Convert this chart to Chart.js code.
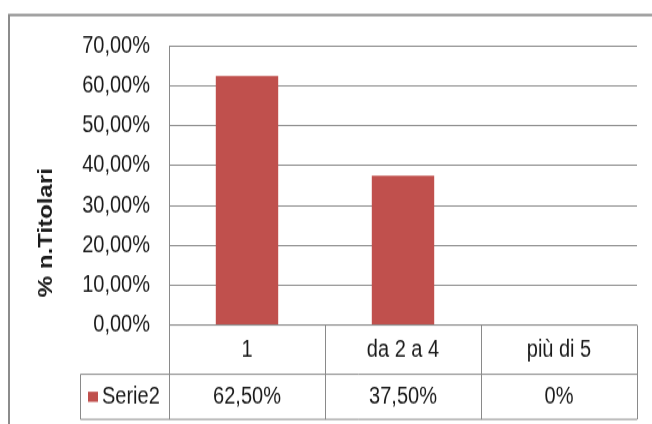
<!DOCTYPE html>
<html>
<head>
<meta charset="utf-8">
<script src="https://cdn.jsdelivr.net/npm/chart.js@4/dist/chart.umd.min.js"></script>
<style>
  html, body { margin: 0; padding: 0; background: #fff; }
  #wrap { width: 652px; height: 424px; position: relative; overflow: hidden; }
  /* the chart is drawn on a shorter canvas and stretched to full height */
  #c { display: block; width: 652px !important; height: 424px !important; }
</style>
</head>
<body>
<div id="wrap"><canvas id="c" width="652" height="353"></canvas></div>
<script>
// Categories and the single series shown in the bars and the data table
const categories = ['1', 'da 2 a 4', 'più di 5'];
const seriesName = 'Serie2';
const serie2 = [62.5, 37.5, 0];
const yTickMax = 70;
const yTickStep = 10;
const yTitle = '% n.Titolari';

const FONT = '"Liberation Sans", Arial, sans-serif';
const FONT_SIZE = 20;
const TEXT = '#1a1a1a';
const GRID = '#8a8a8a';
const BAR = '#C0504D';

function pct2(v) { return v.toFixed(2).replace('.', ',') + '%'; }
function tableLabel(v) { return v === 0 ? '0%' : pct2(v); }

// Frame, y-axis title and data table drawn around the plot area
const tablePlugin = {
  id: 'dataTable',
  beforeDraw(chart) {
    const ctx = chart.ctx;
    ctx.save();
    ctx.fillStyle = '#fff';
    ctx.fillRect(0, 0, chart.width, chart.height);
    ctx.strokeStyle = '#8c8c8c';
    ctx.lineWidth = 2;
    ctx.beginPath();
    ctx.moveTo(9, chart.height + 2);
    ctx.lineTo(9, 12.5);
    ctx.lineTo(chart.width + 2, 12.5);
    ctx.stroke();
    ctx.restore();
  },
  afterDraw(chart) {
    const ctx = chart.ctx;
    const area = chart.chartArea;
    const x = chart.scales.x;
    const n = categories.length;
    const colW = (area.right - area.left) / n;
    const row1 = area.bottom + 41;
    const row2 = row1 + 37.5;
    const legLeft = 80.5;
    ctx.save();
    ctx.strokeStyle = GRID;
    ctx.lineWidth = 1;
    ctx.beginPath();
    // left axis line through the table
    ctx.moveTo(Math.round(area.left) + 0.5, area.top);
    ctx.lineTo(Math.round(area.left) + 0.5, row2);
    // horizontal rules
    ctx.moveTo(area.left, area.bottom);
    ctx.lineTo(area.right, area.bottom);
    ctx.moveTo(legLeft, row1);
    ctx.lineTo(area.right, row1);
    ctx.moveTo(legLeft, row2);
    ctx.lineTo(area.right, row2);
    // column separators
    for (let i = 1; i <= n; i++) {
      const cx = Math.round(area.left + colW * i) + 0.5;
      ctx.moveTo(cx, area.bottom);
      ctx.lineTo(cx, row2);
    }
    ctx.moveTo(legLeft, row1);
    ctx.lineTo(legLeft, row2);
    ctx.stroke();

    // series row
    const midY = (row1 + row2) / 2;
    ctx.fillStyle = BAR;
    ctx.fillRect(88, midY - 4.2, 10, 8.4);
    ctx.fillStyle = TEXT;
    ctx.font = FONT_SIZE + 'px ' + FONT;
    ctx.textBaseline = 'middle';
    ctx.textAlign = 'left';
    ctx.fillText(seriesName, 102, midY);
    ctx.textAlign = 'center';
    serie2.forEach((v, i) => {
      ctx.fillText(tableLabel(v), x.getPixelForValue(i), midY);
    });

    // y-axis title
    ctx.translate(46, (area.top + row2) / 2);
    ctx.rotate(-Math.PI / 2);
    ctx.font = 'bold 20px ' + FONT;
    ctx.textAlign = 'center';
    ctx.textBaseline = 'middle';
    ctx.fillText(yTitle, 0, 0);
    ctx.restore();
  }
};

new Chart(document.getElementById('c'), {
  type: 'bar',
  data: {
    labels: categories,
    datasets: [{
      label: seriesName,
      data: serie2,
      backgroundColor: BAR,
      borderWidth: 0,
      categoryPercentage: 1,
      barPercentage: 0.4
    }]
  },
  options: {
    responsive: false,
    maintainAspectRatio: false,
    animation: false,
    devicePixelRatio: 1,
    layout: { padding: { top: 38.3, right: 15, bottom: 4, left: 0 } },
    plugins: { legend: { display: false }, tooltip: { enabled: false } },
    scales: {
      x: {
        grid: { display: false, drawTicks: false },
        border: { display: false },
        ticks: { color: TEXT, font: { family: FONT, size: FONT_SIZE }, padding: 9 },
        afterFit(scale) { scale.height = 78.4; }
      },
      y: {
        min: 0,
        max: yTickMax,
        grid: { color: GRID, drawTicks: false },
        border: { display: false },
        ticks: {
          stepSize: yTickStep,
          color: TEXT,
          font: { family: FONT, size: FONT_SIZE },
          padding: 19,
          callback: v => pct2(v)
        },
        afterFit(scale) { scale.width = 169; }
      }
    }
  },
  plugins: [tablePlugin]
});
</script>
</body>
</html>
